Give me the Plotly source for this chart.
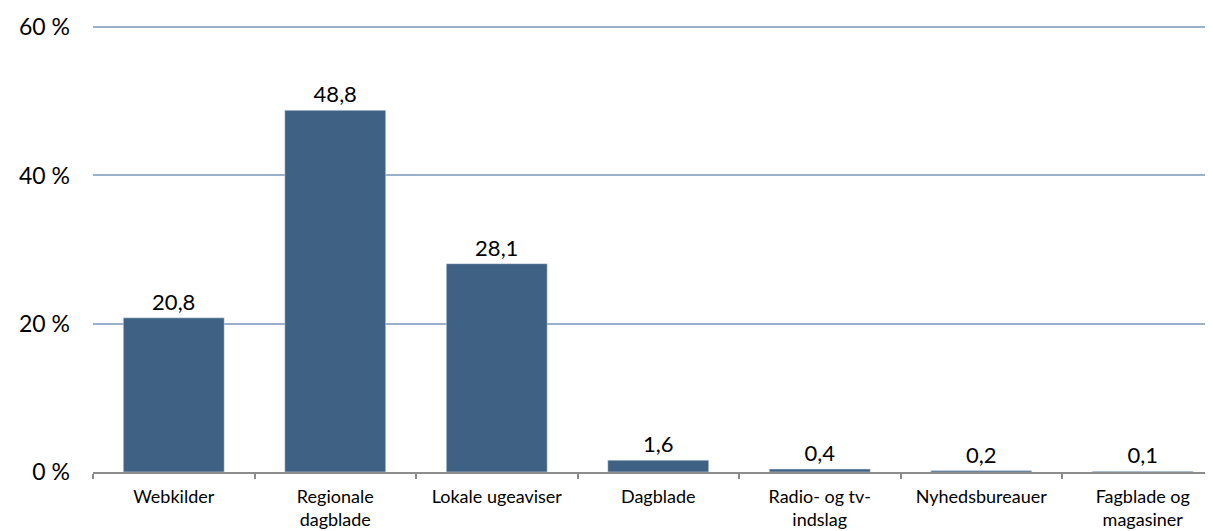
import plotly.graph_objects as go

categories = ["Webkilder", "Regionale<br>dagblade", "Lokale ugeaviser", "Dagblade",
              "Radio- og tv-<br>indslag", "Nyhedsbureauer", "Fagblade og<br>magasiner"]
values = [20.8, 48.8, 28.1, 1.6, 0.4, 0.2, 0.1]
labels = ["20,8", "48,8", "28,1", "1,6", "0,4", "0,2", "0,1"]
y_ticks = [0, 20, 40, 60]
y_tick_text = ["0 %", "20 %", "40 %", "60 %"]

fig = go.Figure(go.Bar(
    x=categories, y=values, text=labels, textposition="outside",
    textfont=dict(size=22, color="#000000", family="Lato"),
    marker=dict(color="#3F6184"), cliponaxis=False, hoverinfo="skip",
))

fig.update_layout(
    width=1205, height=523,
    margin=dict(l=85, r=0, t=17, b=59),
    paper_bgcolor="white", plot_bgcolor="white",
    bargap=0.375, showlegend=False,
    font=dict(family="Lato", color="#000000"),
    xaxis=dict(
        range=[-0.5, 6.435], tickson="boundaries", ticks="outside", ticklen=5,
        tickcolor="#8c8c8c", tickwidth=1.5, showline=True, linecolor="#8c8c8c", linewidth=2,
        tickfont=dict(size=18, family="Lato"), showgrid=False, automargin=False,
        ticklabelstandoff=7,
    ),
    yaxis=dict(
        range=[0, 60.3], tickvals=y_ticks, ticktext=y_tick_text,
        tickfont=dict(size=23, family="Lato"), showgrid=True, gridcolor="#9AB0CB",
        gridwidth=2, zeroline=False, ticklabelstandoff=22, ticks="", automargin=False,
    ),
)

fig.write_html("out.html")
